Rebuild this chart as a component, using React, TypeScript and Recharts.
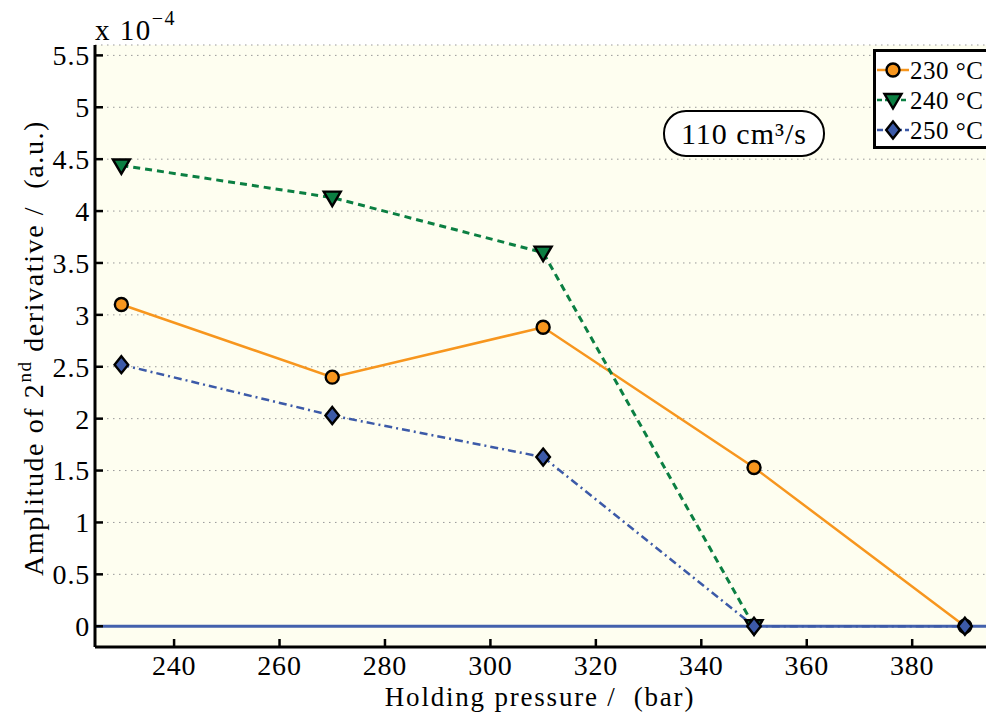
import React from "react";
import {
  LineChart,
  Line,
  XAxis,
  YAxis,
  CartesianGrid,
  ReferenceLine,
} from "recharts";

const pressures = [230, 270, 310, 350, 390];
const amp230 = [3.1, 2.4, 2.88, 1.53, 0];
const amp240 = [4.44, 4.13, 3.6, 0, null];
const amp250 = [2.52, 2.03, 1.63, 0, 0];

const xTicks = [240, 260, 280, 300, 320, 340, 360, 380];
const yTicks = [0, 0.5, 1, 1.5, 2, 2.5, 3, 3.5, 4, 4.5, 5, 5.5];

const ORANGE = "#f7961e";
const GREEN = "#0b7f42";
const BLUE = "#3c5aa8";
const FONT = "'Liberation Serif', 'Times New Roman', serif";

const data = pressures.map((p, i) => ({
  p,
  a230: amp230[i],
  a240: amp240[i],
  a250: amp250[i],
}));

const CircleDot = (props: any) => {
  const { cx, cy } = props;
  if (cx == null || cy == null) return null;
  return <circle cx={cx} cy={cy} r={6.5} fill={ORANGE} stroke="#000" strokeWidth={2.4} />;
};

const TriangleDot = (props: any) => {
  const { cx, cy } = props;
  if (cx == null || cy == null) return null;
  const s = 8.5;
  return (
    <polygon
      points={`${cx - s},${cy - s * 0.7} ${cx + s},${cy - s * 0.7} ${cx},${cy + s}`}
      fill={GREEN}
      stroke="#000"
      strokeWidth={2.4}
    />
  );
};

const DiamondDot = (props: any) => {
  const { cx, cy } = props;
  if (cx == null || cy == null) return null;
  const s = 8.5;
  return (
    <polygon
      points={`${cx},${cy - s} ${cx + s * 0.8},${cy} ${cx},${cy + s} ${cx - s * 0.8},${cy}`}
      fill={BLUE}
      stroke="#000"
      strokeWidth={2.4}
    />
  );
};

const legendItems = [
  { label: "230 °C", color: ORANGE, dash: undefined, Dot: CircleDot },
  { label: "240 °C", color: GREEN, dash: "5 3", Dot: TriangleDot },
  { label: "250 °C", color: BLUE, dash: "6 3 2 3", Dot: DiamondDot },
];

const tickStyle = { fill: "#000", fontSize: 28, fontFamily: FONT, letterSpacing: 0.8 };

export default function App() {
  return (
    <div style={{ position: "absolute", left: 0, top: 0, width: 986, height: 713, fontFamily: FONT }}>
      <LineChart
        width={986}
        height={713}
        data={data}
        margin={{ top: 45, right: 0, bottom: 0, left: 0 }}
        style={{ fontFamily: FONT }}
      >
        <CartesianGrid
          vertical={false}
          stroke="#999"
          strokeDasharray="1.5 4.5"
          fill="#fefef0"
          fillOpacity={1}
        />
        <XAxis
          type="number"
          dataKey="p"
          domain={[225, 394]}
          allowDataOverflow
          ticks={xTicks}
          height={66}
          axisLine={{ stroke: "#000", strokeWidth: 3 }}
          tickLine={{ stroke: "#000", strokeWidth: 2.5 }}
          tickSize={-8}
          tickMargin={16}
          tick={tickStyle}
        />
        <XAxis
          xAxisId="top"
          orientation="top"
          type="number"
          dataKey="p"
          domain={[225, 394]}
          allowDataOverflow
          ticks={xTicks}
          height={0}
          axisLine={{ stroke: "#000", strokeWidth: 3 }}
          tickLine={{ stroke: "#000", strokeWidth: 2.5 }}
          tickSize={-8}
          tick={false}
        />
        <YAxis
          type="number"
          domain={[-0.2, 5.6]}
          allowDataOverflow
          ticks={yTicks}
          width={95}
          axisLine={{ stroke: "#000", strokeWidth: 3 }}
          tickLine={{ stroke: "#000", strokeWidth: 2.5 }}
          tickSize={-8}
          tickMargin={13}
          tickFormatter={(v: number) => String(v)}
          tick={tickStyle}
        />
        <ReferenceLine y={0} stroke="#4361ad" strokeWidth={3} />
        <Line
          dataKey="a230"
          stroke={ORANGE}
          strokeWidth={2.5}
          dot={<CircleDot />}
          isAnimationActive={false}
        />
        <Line
          dataKey="a240"
          stroke={GREEN}
          strokeWidth={3}
          strokeDasharray="7 5"
          dot={<TriangleDot />}
          isAnimationActive={false}
        />
        <Line
          dataKey="a250"
          stroke={BLUE}
          strokeWidth={2.5}
          strokeDasharray="8 4 2 4"
          dot={<DiamondDot />}
          isAnimationActive={false}
        />
        <text
          x={43}
          y={348}
          transform="rotate(-90, 43, 348)"
          textAnchor="middle"
          fontSize={28}
          fontFamily={FONT}
          letterSpacing={1.6}
          fill="#000"
        >
          Amplitude of 2
          <tspan fontSize={19} dy={-12}>nd</tspan>
          <tspan dy={12}>{"\u00a0derivative /\u00a0\u00a0(a.u.)"}</tspan>
        </text>
        <text
          x={540}
          y={706}
          textAnchor="middle"
          fontSize={27}
          fontFamily={FONT}
          letterSpacing={1.8}
          fill="#000"
        >
          {"Holding pressure /\u00a0\u00a0(bar)"}
        </text>
        <text x={95} y={40} fontSize={29} fontFamily={FONT} letterSpacing={1.5} fill="#000">
          x 10
          <tspan fontSize={20} dy={-15}>−4</tspan>
        </text>
      </LineChart>

      <div
        style={{
          position: "absolute",
          left: 663,
          top: 110,
          width: 158,
          height: 43,
          border: "2.5px solid #000",
          borderRadius: 23,
          background: "#fff",
          display: "flex",
          alignItems: "center",
          justifyContent: "center",
          fontSize: 30,
          letterSpacing: 1,
          lineHeight: 1,
        }}
      >
        110 cm³/s
      </div>

      <div
        style={{
          position: "absolute",
          left: 873,
          top: 49,
          width: 120,
          height: 94,
          border: "3px solid #000",
          background: "#fff",
        }}
      >
        {legendItems.map((it, i) => (
          <div
            key={it.label}
            style={{
              position: "absolute",
              left: 0,
              top: 3 + i * 30,
              height: 30,
              display: "flex",
              alignItems: "center",
              fontSize: 25,
              letterSpacing: 0.5,
              lineHeight: 1,
              whiteSpace: "nowrap",
            }}
          >
            <svg width={34} height={30}>
              <line
                x1={1}
                x2={33}
                y1={15}
                y2={15}
                stroke={it.color}
                strokeWidth={2.5}
                strokeDasharray={it.dash}
              />
              <it.Dot cx={17} cy={15} />
            </svg>
            <span>{it.label}</span>
          </div>
        ))}
      </div>
    </div>
  );
}
